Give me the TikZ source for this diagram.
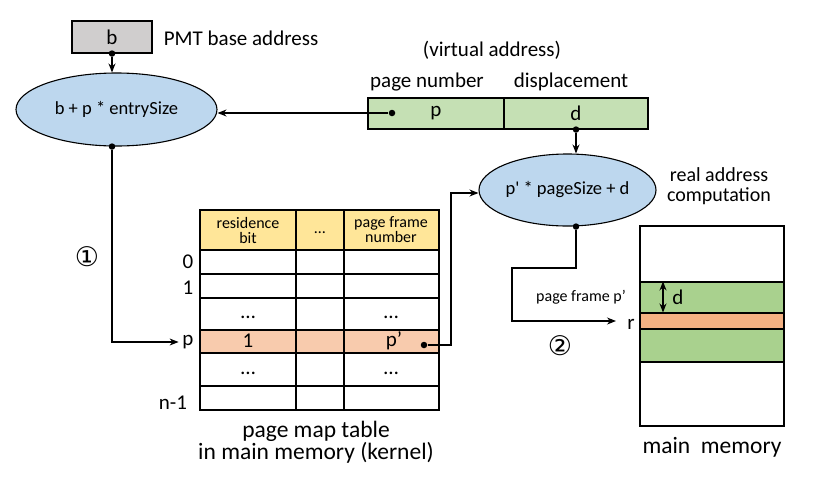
\documentclass[tikz,border=0pt]{standalone}
\usepackage{fontspec}
\setmainfont{Carlito}
\newfontfamily\circfont{DejaVu Sans}
\usetikzlibrary{shapes.geometric,arrows.meta}
\definecolor{boxgray}{HTML}{D0CECE}
\definecolor{ellblue}{HTML}{BDD7EE}
\definecolor{vagreen}{HTML}{C5E0B4}
\definecolor{headyellow}{HTML}{FFE699}
\definecolor{rowpeach}{HTML}{F8CBAD}
\definecolor{memgreen}{HTML}{A9D18E}
\definecolor{memorange}{HTML}{F4B183}
\begin{document}
\begin{tikzpicture}[x=1pt,y=-1pt,>={Stealth[length=9pt,width=7pt]},line width=1.1pt,
  calc/.style={draw, ellipse, fill=ellblue, inner sep=0pt, font=\fontsize{18.5}{20}\selectfont},
  dot/.style={circle, fill, inner sep=0pt, minimum size=6.5pt},
  lbl/.style={font=\fontsize{21}{24}\selectfont},
  small/.style={font=\fontsize{16}{15}\selectfont, align=center},
  caption/.style={font=\fontsize{23.5}{21}\selectfont, align=center},
  stepmark/.style={font=\circfont\fontsize{27}{27}\selectfont},
  field/.style={draw, fill=vagreen, minimum height=31pt, lbl}]
\useasboundingbox (0,0) rectangle (822,483);

\node[draw, fill=boxgray, minimum width=80pt, minimum height=32pt, lbl] (b) at (112,37) {b};
\node[lbl, anchor=west] (pmt) at (160,38) {PMT base address};
\node[calc, minimum width=201pt, minimum height=73pt] (addr) at (116.5,109.5) {b + p * entrySize};

\node[lbl] (virt) at (492,50) {(virtual address)};
\node[lbl] (pnumlab) at (427,82) {page number};
\node[lbl] (displab) at (571,82) {displacement};
\node[field, minimum width=136pt] (pfield) at (436,113.5) {p};
\node[field, minimum width=144pt] (dfield) at (576,113.5) {d};

\node[calc, minimum width=177pt, minimum height=72pt] (real) at (567.5,190) {p\textquotesingle{} * pageSize + d};
\node[font=\fontsize{20}{20}\selectfont, align=center] (reallab) at (719,186) {real address\\computation};

\node[dot] (bdot) at (b.south) {};
\node[dot] (adot) at (bdot |- addr.south) {};
\node[dot] (pdot) at (392,113) {};
\node[dot] (ddot) at (dfield.south) {};
\node[dot] (rdot) at (ddot |- real.south) {};

\fill[headyellow] (200,210) rectangle (439,250);
\fill[rowpeach] (200,330) rectangle (439,353);
\foreach \y in {250,274,298,330,353,386}
  \draw (200,\y) -- (439,\y);
\foreach \x in {296,344}
  \draw (\x,210) -- (\x,410);
\draw (200,210) rectangle (439,410);

\node[small] (hres) at (248,230) {residence\\bit};
\node[small] (hdots) at (320,233) {…};
\node[small] (hpfn) at (391,230) {page frame\\number};
\node[lbl] (r0) at (188,262) {0};
\node[lbl] (r1) at (188,288) {1};
\node[lbl] (plab) at (188,342) {p};
\node[lbl] (rn) at (173,403) {n-1};
\node[lbl] (d1) at (248,317) {…};
\node[lbl] (d2) at (391,317) {…};
\node[lbl] (pres) at (248,341) {1};
\node[lbl] (ppfn) at (394,341) {p’};
\node[lbl] (d3) at (248,373) {…};
\node[lbl] (d4) at (391,373) {…};
\node[dot] (pfdot) at (424,345) {};

\node[caption] (pmtcap) at (316,442) {page map table\\in main memory (kernel)};

\node[draw, fill=white, minimum width=144pt, minimum height=200pt] (mem) at (712,326) {};
\node[draw, fill=memgreen, minimum width=144pt, minimum height=80pt] (frame) at (712,322) {};
\node[draw, fill=memorange, minimum width=144pt, minimum height=16pt] (rband) at (712,321) {};
\node[lbl] (dlab) at (678,297) {d};
\node[lbl] (rmark) at (631,324) {r};
\node[caption] (memcap) at (712,447) {main\ \ memory};
\node[font=\fontsize{16}{16}\selectfont] (pflab) at (581,297) {page frame p’};
\node[stepmark] (step1) at (87,257) {①};
\node[stepmark] (step2) at (560,346) {②};

\coordinate (turn) at (451,193);
\coordinate (rin) at (616,321);

\draw[->] (bdot) -- (bdot |- addr.north);
\draw[->] (pdot) -- (pdot -| addr.east);
\draw[->] (ddot) -- (ddot |- real.north);
\draw[->] (adot) |- (plab.west);
\draw[->] (pfdot) -| (turn) -- (turn -| real.west);
\draw[->] (rdot) |- (512,268) |- (rin);
\draw[<->] ([xshift=-49pt]frame.north) -- ([xshift=-49pt]rband.north);
\end{tikzpicture}
\end{document}
